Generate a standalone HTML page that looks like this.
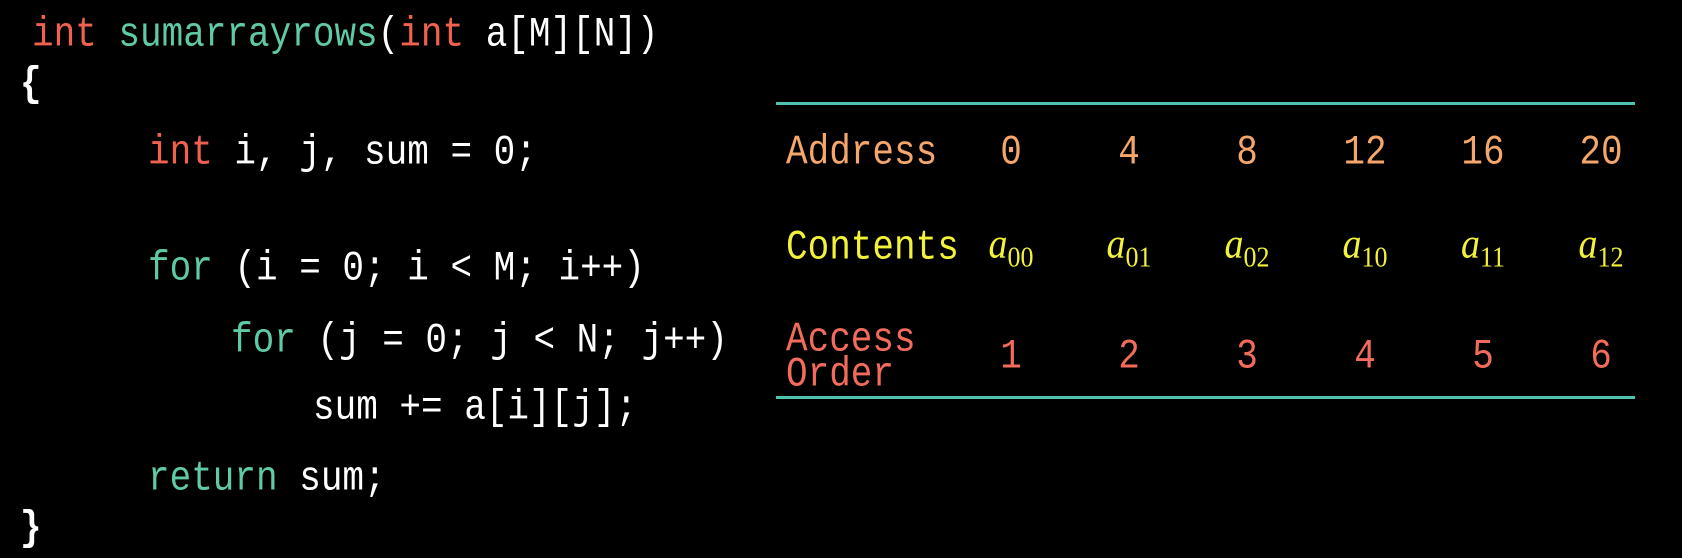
<!DOCTYPE html>
<html><head><meta charset="utf-8"><style>
body{margin:0;background:#000;width:1682px;height:558px;overflow:hidden;position:relative;font-family:"Liberation Mono",monospace;}
.t{position:absolute;white-space:pre;font-size:36px;line-height:1;color:#fff;transform-origin:left bottom;transform:scaleY(1.15);}
.r{color:#f0624f}.g{color:#5fc9a8}.o{color:#f5a66a}.y{color:#f2f23a}.a{color:#f26b5b}
.ln{position:absolute;left:776px;width:859px;height:3px;background:#4fc3b0}
.c{position:absolute;width:100px;text-align:center;white-space:pre;line-height:1;transform-origin:center bottom}
.m{font-family:"Liberation Serif",serif;font-style:italic;font-size:38px;transform:scaleY(1.1)}
.m sub{font-style:normal;font-size:26px;vertical-align:-8px}
</style></head><body>
<div class="t" style="left:32px;top:20px"><span class="r">int</span> <span class="g">sumarrayrows</span>(<span class="r">int</span> a[M][N])</div>
<div class="t" style="left:20px;top:70px;font-weight:bold">{</div>
<div class="t" style="left:148px;top:138px"><span class="r">int</span> i, j, sum = 0;</div>
<div class="t" style="left:148px;top:254px"><span class="g">for</span> (i = 0; i &lt; M; i++)</div>
<div class="t" style="left:231px;top:326px"><span class="g">for</span> (j = 0; j &lt; N; j++)</div>
<div class="t" style="left:313px;top:393px">sum += a[i][j];</div>
<div class="t" style="left:148px;top:464px"><span class="g">return</span> sum;</div>
<div class="t" style="left:20px;top:514px;font-weight:bold">}</div>

<div class="ln" style="top:102px"></div>
<div class="ln" style="top:396px"></div>

<div class="t o" style="left:786px;top:138px">Address</div>
<div class="c t o" style="left:961px;top:138px">0</div>
<div class="c t o" style="left:1079px;top:138px">4</div>
<div class="c t o" style="left:1197px;top:138px">8</div>
<div class="c t o" style="left:1315px;top:138px">12</div>
<div class="c t o" style="left:1433px;top:138px">16</div>
<div class="c t o" style="left:1551px;top:138px">20</div>

<div class="t y" style="left:786px;top:233px">Contents</div>
<div class="c y m" style="left:961px;top:228px">a<sub>00</sub></div>
<div class="c y m" style="left:1079px;top:228px">a<sub>01</sub></div>
<div class="c y m" style="left:1197px;top:228px">a<sub>02</sub></div>
<div class="c y m" style="left:1315px;top:228px">a<sub>10</sub></div>
<div class="c y m" style="left:1433px;top:228px">a<sub>11</sub></div>
<div class="c y m" style="left:1551px;top:228px">a<sub>12</sub></div>

<div class="t a" style="left:786px;top:325px">Access</div>
<div class="t a" style="left:786px;top:360px">Order</div>
<div class="c t a" style="left:961px;top:342px">1</div>
<div class="c t a" style="left:1079px;top:342px">2</div>
<div class="c t a" style="left:1197px;top:342px">3</div>
<div class="c t a" style="left:1315px;top:342px">4</div>
<div class="c t a" style="left:1433px;top:342px">5</div>
<div class="c t a" style="left:1551px;top:342px">6</div>
</body></html>
